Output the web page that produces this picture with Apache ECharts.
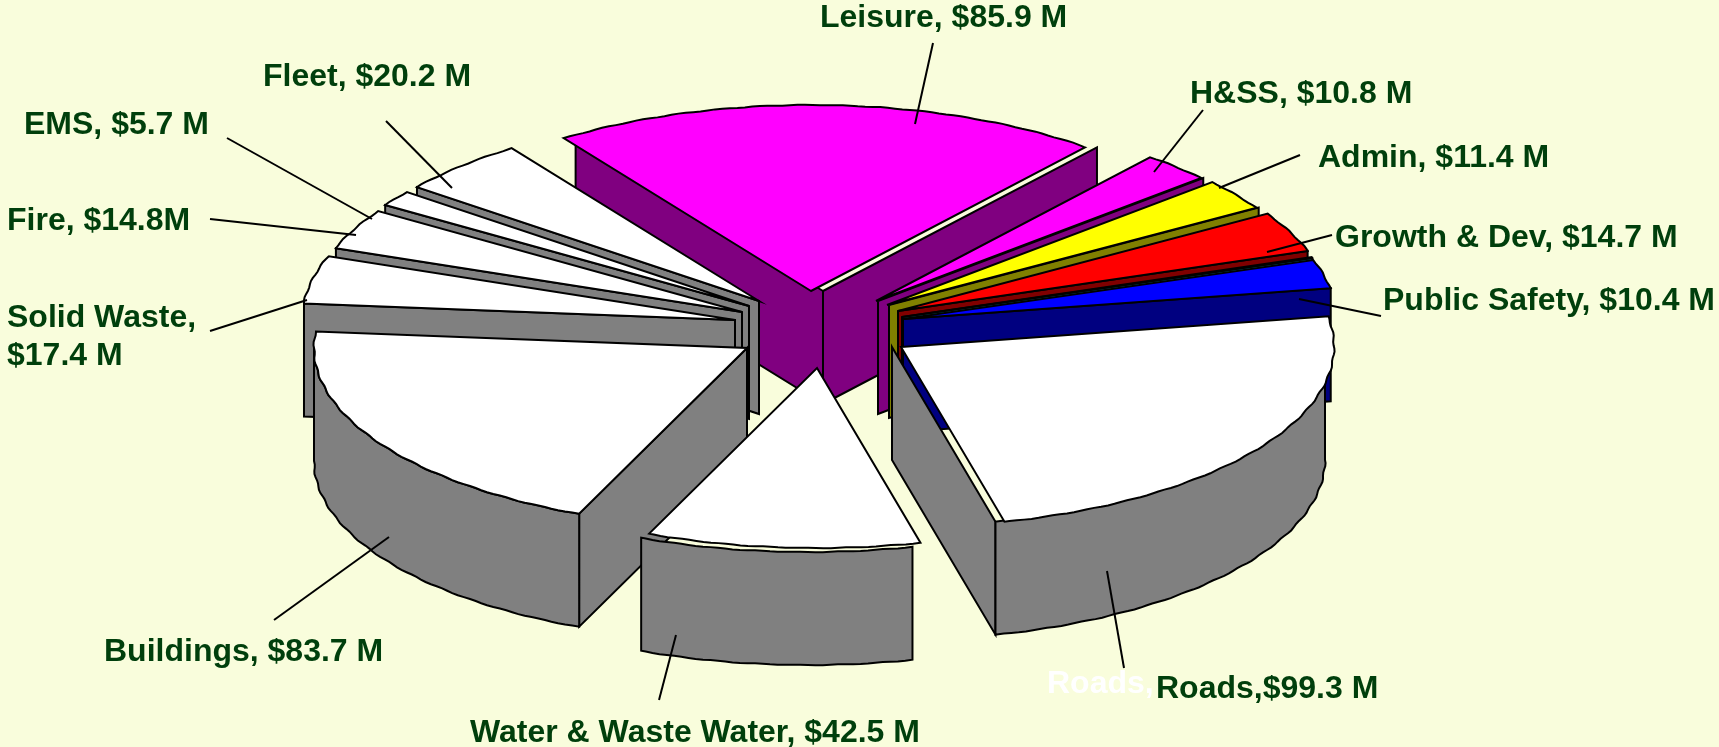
<!DOCTYPE html>
<html>
<head>
<meta charset="utf-8">
<style>html,body{margin:0;padding:0;background:#F9FDDC}#c{width:1719px;height:747px}</style>
<script src="https://cdn.jsdelivr.net/npm/echarts@6/dist/echarts.min.js"></script>
</head>
<body>
<div id="c"></div>
<script>
// ---- data, clockwise from Leisure ----
const categories = ['Leisure','H&SS','Admin','Growth & Dev','Other','Public Safety','Roads','Water & Waste Water','Buildings','Solid Waste','Fire','EMS','Fleet'];
const values     = [85.9,10.8,11.4,14.7,0.4,10.4,99.3,42.5,83.7,17.4,14.8,5.7,20.2];
const labelTexts = ['Leisure, $85.9 M','H&SS, $10.8 M','Admin, $11.4 M','Growth & Dev, $14.7 M','','Public Safety, $10.4 M','Roads,$99.3 M','Water & Waste Water, $42.5 M','Buildings, $83.7 M','Solid Waste,\n$17.4 M','Fire, $14.8M','EMS, $5.7 M','Fleet, $20.2 M'];

// ---- styling and layout ----
const topColors  = ['#FF00FF','#FF00FF','#FFFF00','#FF0000','#00FFFF','#0000FF','#FFFFFF','#FFFFFF','#FFFFFF','#FFFFFF','#FFFFFF','#FFFFFF','#FFFFFF'];
const wallColors = ['#800080','#800080','#808000','#800000','#008080','#000080','#808080','#808080','#808080','#808080','#808080','#808080','#808080'];
const explode    = [[-9,-39],[56,-29],[67,-25],[78,-19],[82,-13],[83,-11],[81,17],[-3,38],[-73,18],[-85,-10],[-78,-18],[-71,-24],[-61,-29]];
const wallShift  = [[12,0],[2,0],[2,0],[0,0],[0,0],[0,0],[-9,0],[-8,4],[0,0],[0,0],[0,0],[0,0],[0,0]];
const centre = [820,330], RX = 433, RY_FRONT = 180, RY_BACK = 186, DEPTH = 113, START_DEG = 235.2, STEP_DEG = 1;
const WOBBLE = 0.0016, WOBBLE_FREQ = 66;   // slightly uneven rim
const LINE_W = 2, INK = '#000000', TEXT = '#003F0C', BG = '#F9FDDC';
const labelPos = [[820,18],[1190,94],[1318,158],[1335,238],null,[1383,301],[1156,689],[470,733],[104,652],[7,337],[7,221],[24,125],[263,77]];
const leaders  = [[[933,43],[915,124]],[[1203,110],[1154,172]],[[1300,155],[1219,188]],[[1332,235],[1267,252]],null,[[1381,316],[1299,299]],[[1124,668],[1107,571]],[[659,700],[676,635]],[[274,620],[389,537]],[[210,331],[307,300]],[[210,219],[356,235]],[[227,138],[372,219]],[[386,121],[452,188]]];

// ---- angles from the values ----
const total = values.reduce((a,b)=>a+b,0);
let run = START_DEG;
const spans = values.map(v=>{const a=run; run+=v/total*360; return [a,run];});
const rad = d=>d*Math.PI/180;
const rim = (o,d)=>{
  const s = Math.sin(rad(d)), f = 1+WOBBLE*Math.sin(rad(d*WOBBLE_FREQ));
  return [o[0]+RX*f*Math.cos(rad(d)), o[1]+(s<0?RY_BACK:RY_FRONT)*f*s];
};
const arc = (o,a,b)=>{const p=[];for(let d=a;d<b;d+=STEP_DEG)p.push(rim(o,d));p.push(rim(o,b));return p;};
const down = p=>[p[0],p[1]+DEPTH];
// back slices first
const paintOrder = values.map((v,i)=>i).sort((i,j)=>
  Math.sin(rad((spans[i][0]+spans[i][1])/2))-Math.sin(rad((spans[j][0]+spans[j][1])/2)));

function poly(points,fill){return {type:'polygon',shape:{points},style:{fill,stroke:INK,lineWidth:LINE_W,lineJoin:'miter'}};}

function renderSlice(params,api){
  const i = api.value(0), [a,b] = spans[i];
  const O = [centre[0]+explode[i][0], centre[1]+explode[i][1]];
  const W = [O[0]+wallShift[i][0], O[1]+wallShift[i][1]];
  const children = [], wall = wallColors[i];
  if(Math.cos(rad(a))<0){const P=rim(W,a);children.push(poly([W,P,down(P),down(W)],wall));}
  if(Math.cos(rad(b))>0){const P=rim(W,b);children.push(poly([W,P,down(P),down(W)],wall));}
  // outer wall: the part of the rim that faces the viewer
  const segs = [[a,b],[a-360,b-360]];
  segs.forEach(([s,e])=>{
    const lo=Math.max(s,0), hi=Math.min(e,180);
    if(hi>lo){const p=arc(W,lo,hi);children.push(poly(p.concat(p.map(down).reverse()),wall));}
  });
  children.push(poly([O].concat(arc(O,a,b)),topColors[i]));
  return {type:'group',children};
}

const FONT = 'bold 32px "Liberation Sans", Arial, sans-serif';
const graphics = [];
leaders.forEach(l=>{ if(l) graphics.push({type:'polyline',z:50,shape:{points:l},style:{stroke:INK,lineWidth:LINE_W,fill:null}}); });
labelTexts.forEach((t,i)=>{ if(t) graphics.push({type:'text',z:60,x:labelPos[i][0],y:labelPos[i][1],
  style:{text:t,font:FONT,fill:TEXT,verticalAlign:'middle',align:'left',lineHeight:38}}); });
graphics.push({type:'text',z:55,x:1047,y:684,style:{text:'Roads,',font:FONT,fill:'#FFFFFF',verticalAlign:'middle',align:'left'}});

const chart = echarts.init(document.getElementById('c'),null,{renderer:'canvas'});
chart.setOption({
  backgroundColor:BG,
  animation:false,
  graphic:{elements:graphics},
  series:[{
    type:'custom',
    coordinateSystem:'none',
    silent:true,
    renderItem:renderSlice,
    data:paintOrder.map(i=>({name:categories[i],value:[i,values[i]]})),
    encode:{}
  }]
});
</script>
</body>
</html>
